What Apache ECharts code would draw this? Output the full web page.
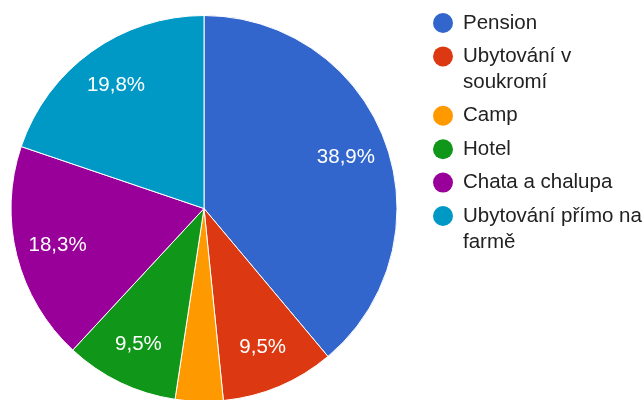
<!DOCTYPE html>
<html>
<head>
<meta charset="utf-8">
<script src="https://cdn.jsdelivr.net/npm/echarts@6/dist/echarts.min.js"></script>
<style>
  html, body { margin: 0; padding: 0; background: #fff; }
  #chart { width: 642px; height: 400px; }
</style>
</head>
<body>
<div id="chart"></div>
<script>
// Data
const categories = ['Pension', 'Ubytování v soukromí', 'Camp', 'Hotel', 'Chata a chalupa', 'Ubytování přímo na farmě'];
const values = [38.9, 9.5, 4.0, 9.5, 18.3, 19.8];
const legendLines = [
  ['Pension'],
  ['Ubytování v', 'soukromí'],
  ['Camp'],
  ['Hotel'],
  ['Chata a chalupa'],
  ['Ubytování přímo na', 'farmě']
];
const colors = ['#3366cc', '#dc3912', '#ff9900', '#109618', '#990099', '#0099c6'];

const FONT = 'Arial, "Liberation Sans", sans-serif';

const chart = echarts.init(document.getElementById('chart'), null, { renderer: 'canvas' });

const pieData = categories.map((c, i) => ({ name: c, value: values[i], itemStyle: { color: colors[i] } }));
const labelData = categories.map((c, i) => ({ name: c, value: values[i] }));

const rich = {
  g: { width: 10 },
  ind: { width: 30 },
  t: { fontFamily: FONT, fontSize: 20.5, color: '#222222', lineHeight: 26 }
};
colors.forEach((col, i) => {
  rich['d' + i] = { width: 20, height: 20, borderRadius: 10, backgroundColor: col, lineHeight: 26 };
});

chart.setOption({
  animation: false,
  color: colors,
  legend: {
    orient: 'vertical',
    left: 427,
    top: 10,
    padding: 0,
    itemGap: 7.4,
    itemWidth: 0,
    itemHeight: 0,
    selectedMode: false,
    data: categories,
    formatter: function (name) {
      const i = categories.indexOf(name);
      const lines = legendLines[i];
      let s = '{d' + i + '|}{g|}{t|' + lines[0] + '}';
      for (let k = 1; k < lines.length; k++) {
        s += '\n{ind|}{t|' + lines[k] + '}';
      }
      return s;
    },
    textStyle: { fontFamily: FONT, fontSize: 20.5, color: '#222222', lineHeight: 26, rich: rich }
  },
  series: [
    {
      type: 'pie',
      center: [204, 208.5],
      radius: [0, 193],
      startAngle: 90,
      clockwise: true,
      silent: true,
      label: { show: false },
      labelLine: { show: false },
      emphasis: { disabled: true },
      itemStyle: { borderColor: '#ffffff', borderWidth: 1 },
      data: pieData
    },
    {
      type: 'pie',
      center: [204, 208.5],
      radius: [103, 193],
      startAngle: 90,
      clockwise: true,
      silent: true,
      minShowLabelAngle: 20,
      emphasis: { disabled: true },
      itemStyle: { color: 'rgba(0,0,0,0)', borderWidth: 0 },
      labelLine: { show: false },
      label: {
        show: true,
        position: 'inside',
        color: '#ffffff',
        fontFamily: FONT,
        fontSize: 20.5,
        formatter: function (p) { return p.value.toFixed(1).replace('.', ',') + '%'; }
      },
      data: labelData
    }
  ]
});
</script>
</body>
</html>
